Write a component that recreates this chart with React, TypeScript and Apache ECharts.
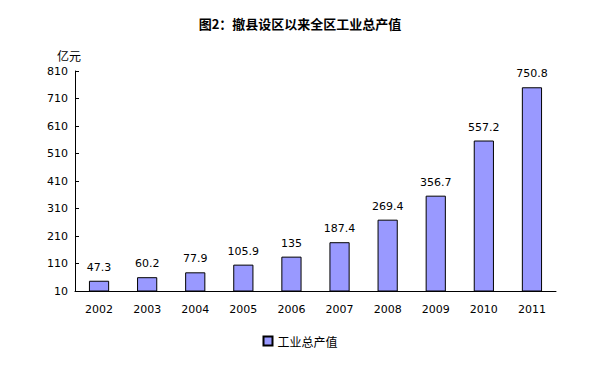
import React, { useEffect, useRef } from "react";
import * as echarts from "echarts";

const years = ["2002", "2003", "2004", "2005", "2006", "2007", "2008", "2009", "2010", "2011"];
const values = [47.3, 60.2, 77.9, 105.9, 135, 187.4, 269.4, 356.7, 557.2, 750.8];
const seriesName = "工业总产值";
const titleText = "图2：撤县设区以来全区工业总产值";
const unitText = "亿元";

export default function App() {
  const ref = useRef<HTMLDivElement>(null);
  useEffect(() => {
    if (!ref.current) return;
    const chart = echarts.init(ref.current, undefined, { renderer: "svg" });
    chart.setOption({
      animation: false,
      backgroundColor: "#fff",
      title: {
        text: titleText,
        left: "center",
        top: 4,
        textStyle: { fontSize: 13, fontWeight: "bold", color: "#000", fontFamily: "Noto Sans CJK SC" },
      },
      legend: {
        bottom: 25,
        left: "center",
        itemWidth: 9,
        itemHeight: 9,
        icon: "rect",
        textStyle: { fontSize: 12, color: "#000", fontFamily: "Noto Sans CJK SC" },
        data: [seriesName],
      },
      grid: { left: 67, right: 36, top: 63, bottom: 86 },
      xAxis: {
        type: "category",
        data: years,
        axisLine: { lineStyle: { color: "#000" } },
        axisTick: { inside: true, length: 4, lineStyle: { color: "#000" } },
        axisLabel: { color: "#000", fontSize: 11, margin: 13, fontFamily: "DejaVu Sans" },
      },
      yAxis: {
        type: "value",
        name: unitText,
        nameLocation: "end",
        nameGap: 10,
        nameTextStyle: { color: "#000", fontSize: 12, fontFamily: "Noto Sans CJK SC", align: "right", padding: [0, -6, 0, 0] },
        min: 10,
        max: 810,
        interval: 100,
        splitLine: { show: false },
        axisLine: { show: true, lineStyle: { color: "#000" } },
        axisTick: { show: true, inside: true, length: 4, lineStyle: { color: "#000" } },
        axisLabel: { color: "#000", fontSize: 11, margin: 7, fontFamily: "DejaVu Sans" },
      },
      series: [
        {
          name: seriesName,
          type: "bar",
          data: values,
          barWidth: "42%",
          itemStyle: { color: "#9999FF", borderColor: "#000", borderWidth: 1 },
          label: { show: true, position: "top", distance: 8, color: "#000", fontSize: 11, fontFamily: "DejaVu Sans" },
        },
      ],
    });
    return () => chart.dispose();
  }, []);
  return <div ref={ref} style={{ width: 584, height: 369 }} />;
}
